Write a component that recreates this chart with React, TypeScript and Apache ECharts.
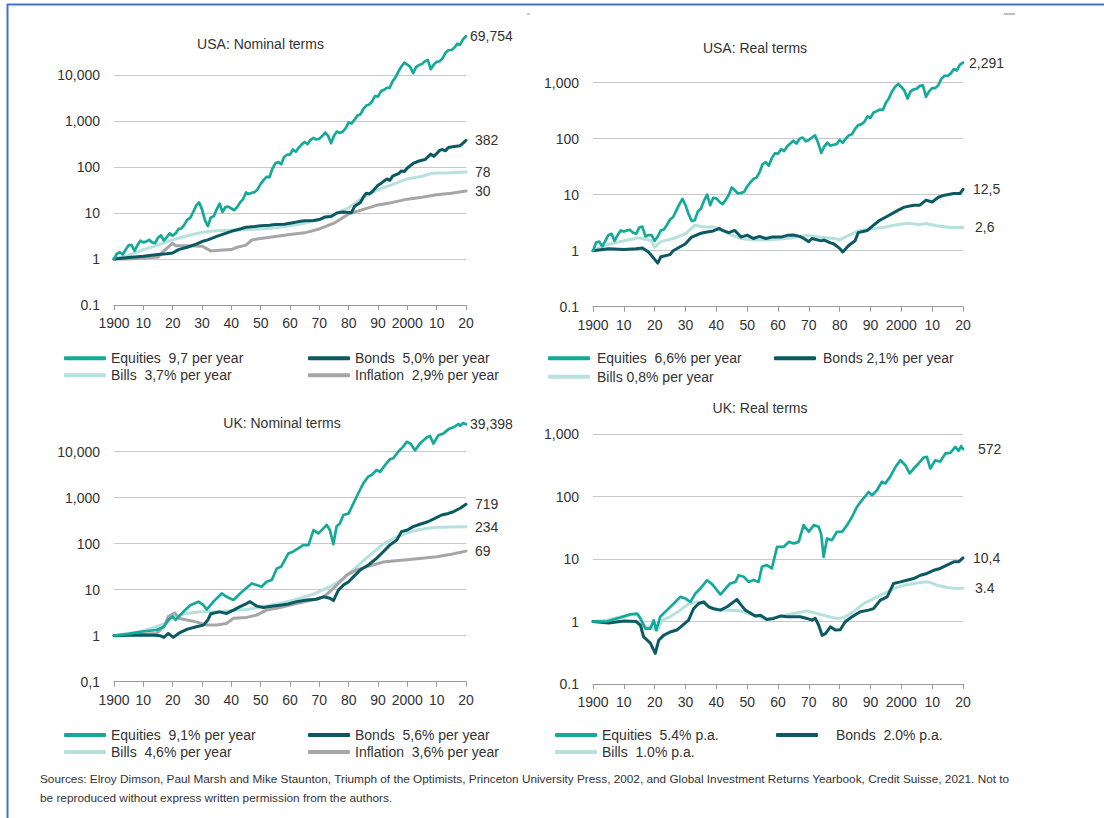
import React, { useEffect, useRef } from 'react';
import * as echarts from 'echarts';

const FONT = '"Liberation Sans", Arial, sans-serif';
const C_EQ = '#15A99A';
const C_BO = '#0B5A63';
const C_BI = '#B6E1DC';
const C_IN = '#A6A6A6';
const TXT = '#333333';

// ---------- USA nominal ----------
const usNomEquities: [number, number][] = [
  [1900, 1], [1901, 1.3], [1902, 1.4], [1903, 1.25], [1904, 1.6], [1905, 2.0], [1906, 2.0], [1907, 1.5], [1908, 2.0], [1909, 2.5],
  [1910, 2.3], [1911, 2.4], [1912, 2.6], [1913, 2.3], [1914, 2.2], [1915, 2.9], [1916, 3.3], [1917, 2.5], [1918, 3.0], [1919, 3.6],
  [1920, 3.2], [1921, 3.6], [1922, 4.5], [1923, 4.6], [1924, 5.6], [1925, 7.2], [1926, 7.8], [1927, 10.5], [1928, 14.5], [1929, 17],
  [1930, 12], [1931, 7], [1932, 5.2], [1933, 8], [1934, 8.5], [1935, 12], [1936, 16], [1937, 10.5], [1938, 13.5], [1939, 13.8],
  [1940, 12.5], [1941, 11.5], [1942, 13.5], [1943, 17], [1944, 20], [1945, 28], [1946, 26], [1947, 27.5], [1948, 28.5], [1949, 33],
  [1950, 43], [1951, 52], [1952, 61], [1953, 60], [1954, 92], [1955, 120], [1956, 128], [1957, 115], [1958, 165], [1959, 185],
  [1960, 185], [1961, 240], [1962, 215], [1963, 265], [1964, 310], [1965, 350], [1966, 315], [1967, 390], [1968, 430], [1969, 395],
  [1970, 410], [1971, 470], [1972, 560], [1973, 475], [1974, 330], [1975, 480], [1976, 590], [1977, 550], [1978, 590], [1979, 700],
  [1980, 930], [1981, 880], [1982, 1070], [1983, 1310], [1984, 1390], [1985, 1830], [1986, 2170], [1987, 2280], [1988, 2660], [1989, 3500],
  [1990, 3390], [1991, 4420], [1992, 4760], [1993, 5240], [1994, 5310], [1995, 7300], [1996, 8980], [1997, 11980], [1998, 15400], [1999, 18600],
  [2000, 16900], [2001, 14900], [2002, 11000], [2003, 14900], [2004, 16500], [2005, 17300], [2006, 20000], [2007, 21100], [2008, 13300], [2009, 16800],
  [2010, 19400], [2011, 19800], [2012, 23000], [2013, 30400], [2014, 34500], [2015, 35000], [2016, 39200], [2017, 47800], [2018, 45700], [2019, 60000],
  [2020, 69754],
];
const usNomBonds: [number, number][] = [
  [1900, 1], [1905, 1.08], [1910, 1.15], [1915, 1.25], [1918, 1.3], [1920, 1.35], [1922, 1.6], [1925, 1.8], [1928, 2.1], [1930, 2.4],
  [1932, 2.6], [1935, 3.1], [1938, 3.6], [1940, 4.0], [1943, 4.5], [1945, 4.9], [1948, 5.1], [1950, 5.3], [1953, 5.4], [1955, 5.6],
  [1958, 5.7], [1960, 6.0], [1963, 6.5], [1965, 6.8], [1968, 6.9], [1970, 7.2], [1972, 8.2], [1974, 8.4], [1976, 10], [1978, 10.5],
  [1980, 10.2], [1981, 10.3], [1982, 14], [1984, 17], [1985, 22], [1986, 27], [1987, 26], [1988, 29], [1990, 40], [1991, 44],
  [1993, 55], [1994, 51], [1995, 63], [1997, 72], [1998, 82], [1999, 80], [2000, 95], [2002, 120], [2004, 135], [2006, 145],
  [2008, 190], [2009, 170], [2010, 195], [2011, 230], [2012, 240], [2013, 225], [2014, 265], [2016, 280], [2018, 290], [2019, 330],
  [2020, 382],
];
const usNomBills: [number, number][] = [
  [1900, 1], [1905, 1.2], [1910, 1.6], [1915, 2.0], [1920, 2.6], [1925, 3.2], [1930, 3.8], [1935, 4.1], [1940, 4.2], [1945, 4.3],
  [1950, 4.5], [1955, 4.8], [1960, 5.3], [1965, 6.0], [1970, 7.2], [1975, 9.5], [1980, 13], [1985, 22], [1990, 32], [1995, 42],
  [2000, 55], [2005, 63], [2008, 72], [2010, 74], [2015, 75], [2020, 78],
];
const usNomInflation: [number, number][] = [
  [1900, 1], [1905, 1.0], [1910, 1.05], [1915, 1.1], [1917, 1.5], [1920, 2.2], [1921, 1.95], [1925, 1.95], [1930, 1.9], [1933, 1.5],
  [1936, 1.55], [1940, 1.6], [1942, 1.8], [1945, 2.0], [1947, 2.6], [1950, 2.8], [1955, 3.1], [1960, 3.4], [1965, 3.7], [1970, 4.5],
  [1975, 6.0], [1980, 9.5], [1985, 12], [1990, 15], [1995, 17], [2000, 20], [2005, 22], [2010, 25], [2015, 27], [2020, 30],
];

// ---------- USA real ----------
const usRealEquities: [number, number][] = [
  [1900, 1], [1901, 1.4], [1902, 1.45], [1903, 1.2], [1904, 1.5], [1905, 1.9], [1906, 2.0], [1907, 1.5], [1908, 1.9], [1909, 2.3],
  [1910, 2.2], [1911, 2.3], [1912, 2.35], [1913, 2.1], [1914, 2.0], [1915, 2.6], [1916, 2.7], [1917, 1.8], [1918, 1.9], [1919, 1.9],
  [1920, 1.5], [1921, 1.8], [1922, 2.3], [1923, 2.4], [1924, 2.9], [1925, 3.6], [1926, 4.0], [1927, 5.2], [1928, 6.7], [1929, 8.4],
  [1930, 6.5], [1931, 4.5], [1932, 3.4], [1933, 3.5], [1934, 5.0], [1935, 5.6], [1936, 7.8], [1937, 10.0], [1938, 6.5], [1939, 8.8],
  [1940, 8.6], [1941, 7.5], [1942, 6.8], [1943, 8.0], [1944, 9.8], [1945, 13.5], [1946, 12.0], [1947, 10.5], [1948, 10.8], [1949, 11.2],
  [1950, 14.0], [1951, 16.5], [1952, 19.0], [1953, 20.0], [1954, 25], [1955, 35], [1956, 38], [1957, 33], [1958, 45], [1959, 55],
  [1960, 54], [1961, 65], [1962, 60], [1963, 73], [1964, 82], [1965, 92], [1966, 82], [1967, 100], [1968, 105], [1969, 90],
  [1970, 95], [1971, 105], [1972, 115], [1973, 85], [1974, 56], [1975, 72], [1976, 85], [1977, 75], [1978, 78], [1979, 80],
  [1980, 95], [1981, 85], [1982, 100], [1983, 115], [1984, 120], [1985, 150], [1986, 175], [1987, 180], [1988, 200], [1989, 250],
  [1990, 235], [1991, 295], [1992, 310], [1993, 330], [1994, 325], [1995, 440], [1996, 530], [1997, 700], [1998, 850], [1999, 950],
  [2000, 840], [2001, 720], [2002, 520], [2003, 700], [2004, 760], [2005, 780], [2006, 880], [2007, 900], [2008, 560], [2009, 700],
  [2010, 800], [2011, 800], [2012, 900], [2013, 1180], [2014, 1330], [2015, 1330], [2016, 1450], [2017, 1750], [2018, 1650], [2019, 2100],
  [2020, 2291],
];
const usRealBonds: [number, number][] = [
  [1900, 1], [1905, 1.08], [1910, 1.05], [1914, 1.08], [1916, 1.12], [1918, 0.95], [1920, 0.7], [1921, 0.6], [1922, 0.78], [1925, 0.85],
  [1926, 1.0], [1928, 1.15], [1930, 1.33], [1932, 1.75], [1935, 2.05], [1937, 2.15], [1939, 2.25], [1941, 2.5], [1942, 2.3], [1944, 2.1],
  [1946, 2.3], [1948, 1.75], [1950, 1.9], [1952, 1.65], [1954, 1.8], [1956, 1.65], [1958, 1.75], [1961, 1.75], [1963, 1.88], [1965, 1.9],
  [1967, 1.8], [1968, 1.7], [1970, 1.45], [1971, 1.65], [1974, 1.5], [1975, 1.55], [1977, 1.38], [1978, 1.33], [1980, 1.1], [1981, 0.95],
  [1983, 1.25], [1985, 1.5], [1986, 2.1], [1989, 2.3], [1991, 2.85], [1993, 3.5], [1995, 4.0], [1997, 4.6], [1999, 5.3], [2001, 6.0],
  [2004, 6.5], [2006, 6.5], [2008, 8.0], [2010, 7.4], [2012, 9.0], [2014, 9.8], [2017, 10.5], [2019, 10.5], [2020, 12.5],
];
const usRealBills: [number, number][] = [
  [1900, 1], [1905, 1.3], [1910, 1.5], [1915, 1.7], [1917, 1.6], [1919, 1.5], [1920, 1.15], [1922, 1.45], [1926, 1.65], [1930, 2.0],
  [1933, 2.85], [1936, 2.65], [1939, 2.65], [1941, 2.5], [1944, 2.0], [1948, 1.65], [1952, 1.55], [1958, 1.57], [1965, 1.7], [1969, 1.88],
  [1973, 1.75], [1978, 1.65], [1980, 1.57], [1983, 1.88], [1986, 2.25], [1990, 2.45], [1995, 2.65], [1999, 2.95], [2002, 3.1], [2006, 2.95],
  [2008, 3.05], [2012, 2.75], [2016, 2.6], [2020, 2.6],
];

// ---------- UK nominal ----------
const ukNomEquities: [number, number][] = [
  [1900, 1], [1905, 1.1], [1909, 1.22], [1914.5, 1.33], [1917, 1.57], [1918.5, 2.2], [1920, 2.6], [1921, 2.2], [1923.6, 3.3], [1926, 4.6],
  [1928.8, 5.5], [1930.5, 4.6], [1931.6, 3.7], [1933.9, 5.5], [1936.7, 8.3], [1938.4, 7], [1940.7, 6], [1943, 8.3], [1945, 10.7], [1947, 13.7],
  [1948.6, 12.6], [1950.3, 11.6], [1952, 14.9], [1953.8, 16.2], [1955.5, 29], [1957, 31.6], [1959.4, 61], [1961, 67], [1962.8, 79], [1964.5, 93],
  [1966.3, 93], [1968, 198], [1969.7, 168], [1971.4, 215], [1972.5, 255], [1973.6, 198], [1974.8, 98], [1975.9, 240], [1977, 275], [1978.2, 420],
  [1980, 455], [1981.6, 750], [1983.3, 1250], [1985, 2050], [1986.7, 2900], [1987.8, 3100], [1989.5, 4000], [1990.7, 3650], [1992.4, 5100], [1994, 6800],
  [1995.2, 7200], [1996.9, 10000], [1998.6, 12900], [1999.8, 16400], [2001.1, 15000], [2002.6, 10700], [2004.3, 15000], [2006.6, 20300], [2007.7, 22100], [2008.9, 15000],
  [2010.6, 22800], [2012.3, 25000], [2014, 30600], [2015.7, 33900], [2017.4, 40000], [2018, 36500], [2019, 42000], [2020, 39398],
];
const ukNomBonds: [number, number][] = [
  [1900, 1], [1905, 1.02], [1910, 1.03], [1914, 1.02], [1915.7, 1.0], [1917, 0.92], [1918.5, 1.12], [1920.2, 0.92], [1922, 1.12], [1924.8, 1.37],
  [1928, 1.57], [1930.5, 1.7], [1932, 2.2], [1933, 3.0], [1936, 3.3], [1938.4, 3.05], [1940.7, 3.6], [1943, 4.3], [1945.2, 5.0], [1946.4, 5.5],
  [1948.6, 4.4], [1951, 4.1], [1954.3, 4.4], [1956.6, 4.6], [1959.4, 4.9], [1962.3, 5.5], [1965.7, 6.0], [1969, 6.2], [1971.4, 7.0], [1973.6, 6.5],
  [1974.8, 5.8], [1976.5, 9.8], [1978.2, 12.6], [1980, 14.9], [1981.6, 19], [1983.9, 26.7], [1986.7, 34.5], [1989.5, 48], [1991.8, 67], [1994, 93],
  [1996.4, 120], [1998, 183], [2000, 198], [2002, 235], [2004.3, 265], [2007, 300], [2009.4, 355], [2011.7, 420], [2014, 455], [2015.7, 495],
  [2018, 590], [2020, 719],
];
const ukNomBills: [number, number][] = [
  [1900, 1], [1909, 1.22], [1914.5, 1.57], [1918, 1.9], [1920.2, 2.6], [1924.8, 3.05], [1929.3, 3.3], [1933.9, 3.3], [1939.5, 3.5], [1945.2, 3.7],
  [1951, 4.3], [1956.6, 5.0], [1962.3, 6.2], [1968, 8.0], [1973.6, 11.6], [1978.2, 17.6], [1982.7, 31.5], [1987.3, 57], [1991.8, 98], [1995.2, 130],
  [2000, 172], [2004.3, 204], [2008.9, 226], [2014.5, 230], [2020, 234],
];
const ukNomInflation: [number, number][] = [
  [1900, 1], [1914.5, 1.12], [1917, 1.57], [1918.5, 2.6], [1920.8, 3.15], [1922, 2.4], [1924.8, 2.2], [1928, 2.0], [1931.6, 1.7], [1935, 1.7],
  [1938.4, 1.85], [1940.7, 2.4], [1945.2, 2.5], [1948.6, 2.8], [1952, 3.6], [1956.6, 4.1], [1962.3, 5.0], [1968, 6.0], [1971.4, 7.0], [1973.6, 9.0],
  [1975.9, 12.6], [1979.3, 20.8], [1982.7, 27], [1987.3, 33], [1991.8, 40], [1995, 42], [2000, 45], [2005, 48], [2010, 52], [2015, 59],
  [2020, 69],
];

// ---------- UK real ----------
const ukRealEquities: [number, number][] = [
  [1900, 1], [1904.5, 1.0], [1908.9, 1.16], [1912, 1.3], [1914.3, 1.34], [1915.4, 1.12], [1917, 0.77], [1918.6, 0.77], [1919.7, 1.05], [1920.5, 0.73],
  [1921.8, 1.19], [1924, 1.52], [1926.2, 1.94], [1928.3, 2.48], [1930, 2.33], [1931.6, 2.06], [1933.2, 2.8], [1934.8, 3.37], [1937, 4.58], [1938.6, 3.96],
  [1940.2, 3.17], [1941.3, 2.7], [1943, 3.37], [1944.5, 4.06], [1946.2, 4.3], [1947.2, 5.5], [1948.9, 5.2], [1950.5, 4.3], [1952.1, 4.6], [1953.7, 4.3],
  [1954.8, 7.5], [1956.4, 8.0], [1958, 7.06], [1959.7, 15.6], [1961.8, 15.6], [1963.5, 18.8], [1965.1, 17.7], [1966.7, 18.8], [1968.3, 34.8], [1970, 27.3],
  [1971.6, 34.8], [1973.2, 32.7], [1974, 25], [1974.8, 10.8], [1975.9, 21.3], [1977.5, 20], [1979.1, 27.3], [1980.8, 27.3], [1982.4, 34.8], [1984, 47],
  [1985.6, 68], [1987.2, 87], [1989.4, 118], [1990.5, 105], [1992.1, 126], [1993.7, 172], [1994.8, 162], [1996.4, 208], [1998.1, 298], [1999.7, 380],
  [2001.3, 317], [2002.7, 234], [2004, 280], [2005.6, 338], [2007.2, 420], [2008.3, 430], [2009.4, 280], [2011, 380], [2012.6, 360], [2014.3, 490],
  [2015.9, 500], [2017.5, 620], [2018.6, 540], [2019.4, 640], [2020, 572],
];
const ukRealBonds: [number, number][] = [
  [1900, 1], [1905, 0.95], [1910, 1.02], [1914, 1.0], [1915.4, 0.87], [1916.4, 0.57], [1918.6, 0.45], [1920.2, 0.31], [1921.3, 0.5], [1922.9, 0.6],
  [1925, 0.68], [1927.2, 0.73], [1929.4, 0.9], [1931, 1.05], [1932.6, 1.6], [1934.3, 1.94], [1935.9, 2.06], [1937.5, 1.72], [1939.1, 1.6], [1941.3, 1.52],
  [1943.5, 1.72], [1945.6, 2.06], [1946.7, 2.25], [1947.8, 1.9], [1949.4, 1.52], [1951, 1.37], [1952.6, 1.22], [1954.3, 1.26], [1956.4, 1.08], [1958.6, 1.12],
  [1960.8, 1.22], [1962.9, 1.19], [1965.1, 1.19], [1967.2, 1.19], [1969.4, 1.12], [1971, 1.05], [1972.1, 1.12], [1973.2, 0.87], [1974.3, 0.6], [1975.4, 0.64],
  [1977, 0.82], [1978.6, 0.73], [1980.2, 0.74], [1981.8, 0.99], [1984, 1.19], [1986.7, 1.43], [1989.4, 1.52], [1991, 1.61], [1993.2, 2.2], [1995.4, 2.48],
  [1997.5, 4.06], [1999.7, 4.3], [2001.8, 4.58], [2004, 4.87], [2006.2, 5.5], [2008.3, 5.87], [2010.5, 6.6], [2012.6, 7.06], [2014.8, 7.97], [2017, 9.0],
  [2018.6, 9.0], [2020, 10.4],
];
const ukRealBills: [number, number][] = [
  [1900, 1], [1904.5, 1.05], [1908.9, 1.19], [1913.2, 1.3], [1914.8, 1.26], [1916.4, 0.82], [1918.6, 0.82], [1920.8, 0.71], [1922.4, 1.05], [1925, 1.19],
  [1928.3, 1.52], [1931, 1.9], [1933.7, 2.06], [1935.9, 1.94], [1939.1, 1.61], [1941.8, 1.52], [1944.5, 1.52], [1947.8, 1.48], [1952.1, 1.26], [1956.4, 1.08],
  [1960.8, 1.22], [1965.1, 1.34], [1969.4, 1.48], [1972.6, 1.34], [1975.9, 1.22], [1979.1, 1.12], [1981.3, 1.16], [1984.5, 1.43], [1987.8, 1.94], [1991, 2.33],
  [1994.3, 2.8], [1997.5, 3.37], [2000.8, 3.8], [2004, 4.06], [2007.2, 4.3], [2008.8, 4.3], [2011.6, 3.8], [2014.8, 3.5], [2018, 3.37], [2020, 3.4],
];

// ---------- texts ----------
const panelTitles = ['USA: Nominal terms', 'USA: Real terms', 'UK: Nominal terms', 'UK: Real terms'];
const names = {
  p1: ['Equities  9,7 per year', 'Bonds  5,0% per year', 'Bills  3,7% per year', 'Inflation  2,9% per year'],
  p2: ['Equities  6,6% per year', 'Bonds 2,1% per year', 'Bills 0,8% per year'],
  p3: ['Equities  9,1% per year', 'Bonds  5,6% per year', 'Bills  4,6% per year', 'Inflation  3,6% per year'],
  p4: ['Equities  5.4% p.a.', 'Bonds  2.0% p.a.', 'Bills  1.0% p.a.'],
};
const endLabels = {
  p1: ['69,754', '382', '78', '30'],
  p2: ['2,291', '12,5', '2,6'],
  p3: ['39,398', '719', '234', '69'],
  p4: ['572', '10,4', '3.4'],
};
const sourceText =
  'Sources: Elroy Dimson, Paul Marsh and Mike Staunton, Triumph of the Optimists, Princeton University Press, 2002, and Global Investment Returns Yearbook, Credit Suisse, 2021. Not to\nbe reproduced without express written permission from the authors.';

function mkLine(name: string, data: [number, number][], color: string, idx: number, width: number, label: string, dist: number, z: number) {
  return {
    type: 'line',
    name,
    data,
    xAxisIndex: idx,
    yAxisIndex: idx,
    symbol: 'none',
    showSymbol: false,
    color,
    itemStyle: { color },
    lineStyle: { color, width, join: 'round', cap: 'round' },
    silent: true,
    z,
    endLabel: { show: true, formatter: label, distance: dist, color: TXT, fontSize: 14, fontFamily: FONT },
  };
}

function yLabel(comma: boolean) {
  return (v: number) => {
    if (v < 0.5) return comma ? '0,1' : '0.1';
    return Math.round(v).toLocaleString('en-US');
  };
}

function xAxisOf(idx: number) {
  return {
    type: 'value',
    gridIndex: idx,
    min: 1900,
    max: 2020,
    interval: 10,
    axisLine: { show: true, onZero: false, lineStyle: { color: '#9a9a9a', width: 1 } },
    axisTick: { show: true, length: 5, lineStyle: { color: '#9a9a9a' } },
    splitLine: { show: false },
    axisLabel: {
      margin: 11,
      color: TXT,
      fontSize: 14,
      fontFamily: FONT,
      formatter: (v: number) => (v === 1900 || v === 2000 ? String(v) : String(Math.round(v) % 100)),
    },
  };
}

function yAxisOf(idx: number, max: number, comma: boolean, hideMax: boolean) {
  return {
    type: 'log',
    logBase: 10,
    gridIndex: idx,
    min: 0.1,
    max,
    axisLine: { show: false },
    axisTick: { show: false },
    axisLabel: { margin: 14, color: TXT, fontSize: 14, fontFamily: FONT, showMaxLabel: !hideMax, formatter: yLabel(comma) },
    splitLine: { show: true, showMaxLine: !hideMax, lineStyle: { color: '#c8c8c8', width: 1 } },
  };
}

function legendOf(left: number, top: number, data: string[], gap: number, extraPad: number) {
  return {
    orient: 'vertical',
    left,
    top,
    padding: 0,
    itemGap: gap,
    itemWidth: 42,
    itemHeight: 4,
    icon: 'roundRect',
    selectedMode: false,
    data,
    textStyle: { color: TXT, fontSize: 14, fontFamily: FONT, padding: [0, 0, 0, extraPad] },
  };
}

export default function App() {
  const ref = useRef<HTMLDivElement>(null);
  useEffect(() => {
    if (!ref.current) return;
    const chart = echarts.init(ref.current, null, { renderer: 'svg' });
    const option: any = {
      animation: false,
      backgroundColor: '#ffffff',
      textStyle: { fontFamily: FONT },
      grid: [
        { left: 114, top: 29, width: 352, height: 276 },
        { left: 593, top: 26.7, width: 370, height: 280 },
        { left: 114, top: 405.7, width: 352, height: 276 },
        { left: 593, top: 434, width: 370, height: 250 },
      ],
      xAxis: [xAxisOf(0), xAxisOf(1), xAxisOf(2), xAxisOf(3)],
      yAxis: [
        yAxisOf(0, 100000, false, true),
        yAxisOf(1, 10000, false, true),
        yAxisOf(2, 100000, true, true),
        yAxisOf(3, 1000, false, false),
      ],
      legend: [
        legendOf(64, 351.3, [names.p1[0], names.p1[2]], 3, 0),
        legendOf(308, 351.3, [names.p1[1], names.p1[3]], 3, 0),
        legendOf(548, 351.3, [names.p2[0], names.p2[2]], 4.4, 2),
        legendOf(774, 351.3, [names.p2[1]], 4, 2),
        legendOf(64, 728, [names.p3[0], names.p3[2]], 3, 0),
        legendOf(308, 728, [names.p3[1], names.p3[3]], 3, 0),
        legendOf(555, 728, [names.p4[0], names.p4[2]], 3, 0),
        legendOf(776, 728, [names.p4[1]], 3, 13),
      ],
      series: [
        mkLine(names.p1[2], usNomBills, C_BI, 0, 3, endLabels.p1[2], 9, 2),
        mkLine(names.p1[3], usNomInflation, C_IN, 0, 3, endLabels.p1[3], 9, 3),
        mkLine(names.p1[1], usNomBonds, C_BO, 0, 3, endLabels.p1[1], 9, 4),
        mkLine(names.p1[0], usNomEquities, C_EQ, 0, 2.7, endLabels.p1[0], 4, 5),

        mkLine(names.p2[2], usRealBills, C_BI, 1, 3, endLabels.p2[2], 12, 2),
        mkLine(names.p2[1], usRealBonds, C_BO, 1, 3, endLabels.p2[1], 10, 4),
        mkLine(names.p2[0], usRealEquities, C_EQ, 1, 2.7, endLabels.p2[0], 6, 5),

        mkLine(names.p3[2], ukNomBills, C_BI, 2, 3, endLabels.p3[2], 9, 2),
        mkLine(names.p3[3], ukNomInflation, C_IN, 2, 3, endLabels.p3[3], 9, 3),
        mkLine(names.p3[1], ukNomBonds, C_BO, 2, 3, endLabels.p3[1], 9, 4),
        mkLine(names.p3[0], ukNomEquities, C_EQ, 2, 2.7, endLabels.p3[0], 4, 5),

        mkLine(names.p4[2], ukRealBills, C_BI, 3, 3, endLabels.p4[2], 12, 2),
        mkLine(names.p4[1], ukRealBonds, C_BO, 3, 3, endLabels.p4[1], 10, 4),
        mkLine(names.p4[0], ukRealEquities, C_EQ, 3, 2.7, endLabels.p4[0], 15, 5),
      ],
      graphic: [
        { type: 'line', silent: true, shape: { x1: 7, y1: 4.5, x2: 1104, y2: 4.5 }, style: { stroke: '#4472C4', lineWidth: 2 } },
        { type: 'line', silent: true, shape: { x1: 7.5, y1: 4, x2: 7.5, y2: 818 }, style: { stroke: '#4472C4', lineWidth: 2 } },
        { type: 'line', silent: true, shape: { x1: 1004, y1: 14, x2: 1015, y2: 14 }, style: { stroke: '#aaaaaa', lineWidth: 1.5 } },
        { type: 'line', silent: true, shape: { x1: 527, y1: 14, x2: 530, y2: 14 }, style: { stroke: '#999999', lineWidth: 1 } },
        { type: 'text', silent: true, x: 260.5, y: 44, style: { text: panelTitles[0], fill: TXT, fontSize: 14, fontFamily: FONT, textAlign: 'center', textVerticalAlign: 'middle' } },
        { type: 'text', silent: true, x: 755, y: 48, style: { text: panelTitles[1], fill: TXT, fontSize: 14, fontFamily: FONT, textAlign: 'center', textVerticalAlign: 'middle' } },
        { type: 'text', silent: true, x: 282, y: 423, style: { text: panelTitles[2], fill: TXT, fontSize: 14, fontFamily: FONT, textAlign: 'center', textVerticalAlign: 'middle' } },
        { type: 'text', silent: true, x: 760, y: 407.5, style: { text: panelTitles[3], fill: TXT, fontSize: 14, fontFamily: FONT, textAlign: 'center', textVerticalAlign: 'middle' } },
        { type: 'text', silent: true, x: 40, y: 769.5, style: { text: sourceText, fill: TXT, fontSize: 11.8, lineHeight: 19, fontFamily: FONT } },
      ],
    };
    chart.setOption(option);
    return () => chart.dispose();
  }, []);
  return (
    <div
      ref={ref}
      style={{ position: 'fixed', left: 0, top: 0, width: 1104, height: 818, background: '#fff' }}
    />
  );
}
